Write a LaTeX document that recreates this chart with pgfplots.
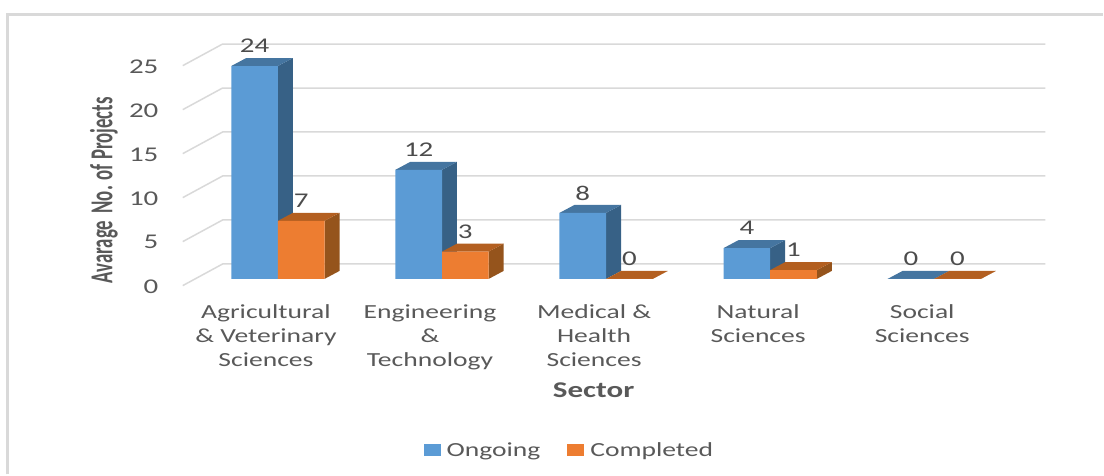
\documentclass[border=0pt]{standalone}
\usepackage{fontspec}
\setmainfont[FakeStretch=1.38]{Carlito}
\newfontfamily\plainfont{Carlito}
\usepackage{pgfplots}
\pgfplotsset{compat=1.18}

\definecolor{blueF}{HTML}{5B9BD5}
\definecolor{blueS}{HTML}{376186}
\definecolor{blueT}{HTML}{4575A0}
\definecolor{orangeF}{HTML}{ED7D31}
\definecolor{orangeS}{HTML}{95541C}
\definecolor{orangeT}{HTML}{B35F20}
\definecolor{gridc}{HTML}{D9D9D9}
\definecolor{txt}{HTML}{595959}

% depth of the fake 3d, in axis units
\newcommand{\bw}{0.2842}
\newcommand{\dx}{0.0912}
\newcommand{\dy}{0.908}

% side and top faces of one bar: left x, height, side colour, top colour
\newcommand{\barfaces}[4]{%
  \pgfmathsetmacro\xb{#1+\bw}%
  \pgfmathsetmacro\xc{#1+\bw+\dx}%
  \pgfmathsetmacro\xd{#1+\dx}%
  \pgfmathsetmacro\yt{#2+\dy}%
  \addplot[sharp plot,fill=#3,draw=none,forget plot] coordinates {(\xb,0) (\xc,\dy) (\xc,\yt) (\xb,#2)};
  \addplot[sharp plot,fill=#4,draw=none,forget plot] coordinates {(#1,#2) (\xb,#2) (\xc,\yt) (\xd,\yt)};
}
% grid line: short diagonal on the floor, then along the back wall
\newcommand{\gridline}[1]{%
  \pgfmathsetmacro\ga{#1-0.76}%
  \pgfmathsetmacro\gb{#1+1.70}%
  \addplot[sharp plot,gridc,line width=1.5pt,forget plot] coordinates {(-0.58,\ga) (-0.337,\gb) (4.678,\gb)};
}

\begin{document}
\begin{tikzpicture}[x=1pt,y=1pt]
\path (0,0) rectangle (1104,475);
\draw[gridc,line width=3pt] (7.5,0) -- (7.5,460) -- (1104,460);
\begin{axis}[
  at={(196.15pt,195.7pt)}, anchor=south west,
  scale only axis, width=821.5pt, height=220.25pt,
  xmin=-0.5, xmax=4.5, ymin=0, ymax=25,
  clip=false,
  axis line style={draw=none},
  tick style={draw=none},
  major tick length=0pt,
  xtick={0,1,2,3,4},
  xticklabels={Agricultural\\\& Veterinary\\Sciences,Engineering\\\&\\Technology,Medical \&\\Health\\Sciences,Natural\\Sciences,Social\\Sciences},
  ytick={0,5,...,25},
  /pgf/number format/.cd, fixed, precision=0, assume math mode=true, /pgfplots/.cd,
  xticklabel style={align=center, anchor=north, font=\fontsize{20}{24}\selectfont, text=txt, xshift=-12pt, yshift=-22pt},
  yticklabel style={anchor=east, font=\fontsize{21}{24}\selectfont, text=txt, xshift=-34pt, yshift=-7.4pt},
  xlabel={\bfseries Sector},
  xlabel style={at={(axis description cs:0.4848,-0.507)}, anchor=center, font=\fontsize{22.5}{24}\selectfont, text=txt},
  ylabel={\plainfont\bfseries\scalebox{1}[1.7]{Avarage\, No. of Projects}},
  ylabel style={at={(axis description cs:-0.112,0.403)}, anchor=center, font=\fontsize{18.8}{24}\selectfont, text=txt},
  barlabels/.style={
    nodes near coords,
    point meta=y,
    nodes near coords style={anchor=center, xshift=#1, yshift=20pt, font=\fontsize{21}{24}\selectfont, text=txt!85!black}},
  legend columns=2,
  legend cell align=left,
  legend style={at={(axis description cs:0.4552,-0.78)}, anchor=center, draw=none, fill=none,
    font=\fontsize{20}{24}\selectfont, text=txt,
    /tikz/every even column/.append style={column sep=25pt}},
  legend image code/.code={\fill[#1] (0pt,-6pt) rectangle (17pt,6pt); \path (21pt,0pt);},
]
\pgfplotsinvokeforeach{0,5,10,15,20,25}{\gridline{#1}}

% left edges of the blue bars are at x-0.2842
\barfaces{-0.2842}{24.2}{blueS}{blueT}
\barfaces{0.7158}{12.4}{blueS}{blueT}
\barfaces{1.7158}{7.5}{blueS}{blueT}
\barfaces{2.7158}{3.5}{blueS}{blueT}
\barfaces{3.7158}{0}{blueS}{blueT}
\addplot[ybar,bar width=46.7pt,bar shift=-23.35pt,fill=blueF,draw=none,barlabels=-23.35pt] coordinates {(0,24.2) (1,12.4) (2,7.5) (3,3.5) (4,0)};
\addlegendentry{Ongoing}

\barfaces{0}{6.6}{orangeS}{orangeT}
\barfaces{1}{3.1}{orangeS}{orangeT}
\barfaces{2}{0}{orangeS}{orangeT}
\barfaces{3}{1}{orangeS}{orangeT}
\barfaces{4}{0}{orangeS}{orangeT}
\addplot[ybar,bar width=46.7pt,bar shift=23.35pt,fill=orangeF,draw=none,barlabels=23.35pt] coordinates {(0,6.6) (1,3.1) (2,0) (3,1) (4,0)};
\addlegendentry{Completed}
\end{axis}
\end{tikzpicture}
\end{document}
